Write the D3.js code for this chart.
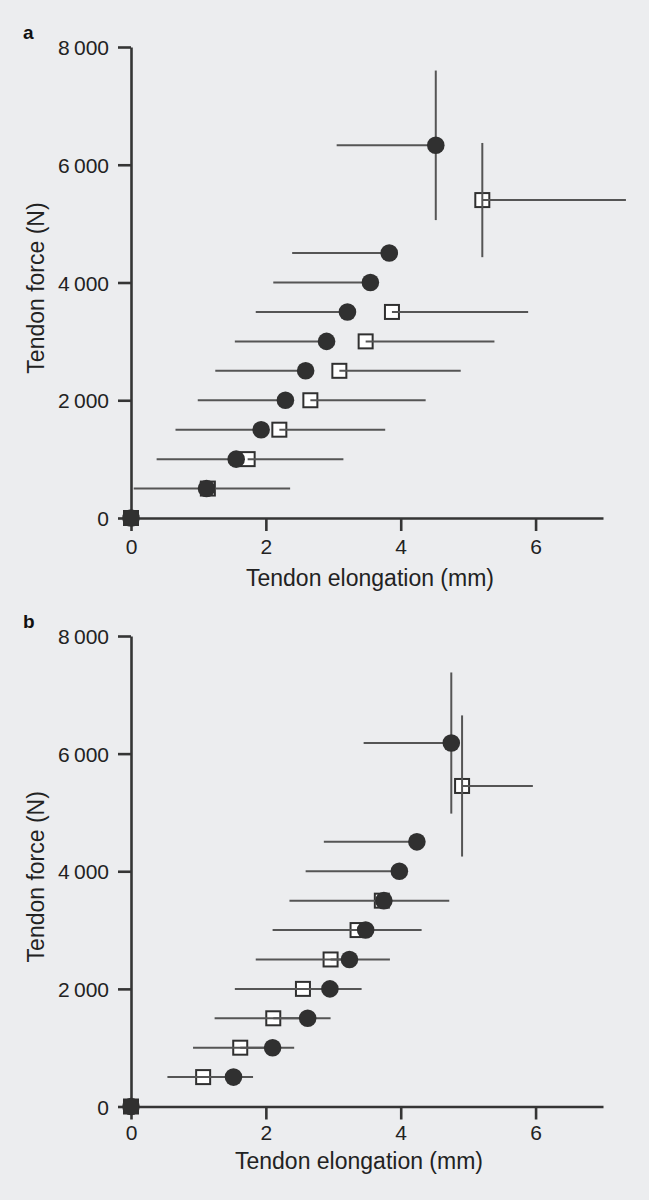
<!DOCTYPE html>
<html>
<head>
<meta charset="utf-8">
<script src="https://cdn.jsdelivr.net/npm/d3@7"></script>
<style>
  html, body { margin: 0; padding: 0; background: #ECEDEF; }
  svg { display: block; }
</style>
</head>
<body>
<svg id="chart" width="649" height="1200"></svg>
<script>
// ---------- DATA ----------
const xTicks = [0, 2, 4, 6];
const yTicks = [0, 2000, 4000, 6000, 8000];
const yTickLabels = ["0", "2\u2009000", "4\u2009000", "6\u2009000", "8\u2009000"];
const xTitle = "Tendon elongation (mm)";
const yTitle = "Tendon force (N)";

// Panel a – filled circles (error bar to the left)
const aCircleForce = [0, 500, 1000, 1500, 2000, 2500, 3000, 3500, 4000, 4500, 6330];
const aCircleElong = [0, 1.12, 1.56, 1.93, 2.29, 2.59, 2.90, 3.21, 3.55, 3.83, 4.52];
const aCircleElongErr = [0, 1.08, 1.18, 1.27, 1.30, 1.34, 1.36, 1.36, 1.44, 1.44, 1.47];
const aCircleForceErr = [0, 0, 0, 0, 0, 0, 0, 0, 0, 0, 1270];
// Panel a – open squares (error bar to the right)
const aSquareForce = [0, 500, 1000, 1500, 2000, 2500, 3000, 3500, 5400];
const aSquareElong = [0, 1.14, 1.73, 2.20, 2.66, 3.09, 3.48, 3.87, 5.21];
const aSquareElongErr = [0, 1.22, 1.42, 1.57, 1.71, 1.80, 1.91, 2.02, 2.13];
const aSquareForceErr = [0, 0, 0, 0, 0, 0, 0, 0, 970];

// Panel b – filled circles
const bCircleForce = [0, 500, 1000, 1500, 2000, 2500, 3000, 3500, 4000, 4500, 6180];
const bCircleElong = [0, 1.52, 2.10, 2.62, 2.95, 3.24, 3.48, 3.75, 3.98, 4.24, 4.75];
const bCircleElongErr = [0, 0.98, 1.18, 1.38, 1.41, 1.39, 1.38, 1.40, 1.39, 1.38, 1.30];
const bCircleForceErr = [0, 0, 0, 0, 0, 0, 0, 0, 0, 0, 1200];
// Panel b – open squares
const bSquareForce = [0, 500, 1000, 1500, 2000, 2500, 3000, 3500, 5450];
const bSquareElong = [0, 1.07, 1.62, 2.11, 2.55, 2.96, 3.36, 3.72, 4.91];
const bSquareElongErr = [0, 0.74, 0.80, 0.85, 0.87, 0.88, 0.95, 1.00, 1.05];
const bSquareForceErr = [0, 0, 0, 0, 0, 0, 0, 0, 1200];

// ---------- DRAW ----------
const svg = d3.select("#chart");
svg.append("rect").attr("width", 649).attr("height", 1200).attr("fill", "#ECEDEF");

const AXIS = "#353535", BAR = "#555555", MARK = "#303030";
const tickFont = "'Liberation Sans Narrow', 'Liberation Sans', Arial, sans-serif";
const titleFont = "'Liberation Sans', Arial, sans-serif";

function zip(f, e, ee, fe) {
  return f.map((v, i) => ({ f: v, e: e[i], ee: ee[i], fe: fe[i] }));
}

function panel(cfg) {
  const x = d3.scaleLinear().domain([0, 7]).range([131, 603]);
  const y = d3.scaleLinear().domain([0, 8000]).range([cfg.y0, cfg.y8]);
  const g = svg.append("g");

  // axes
  const xAxis = d3.axisBottom(x).tickValues(xTicks).tickSize(13).tickSizeOuter(0).tickPadding(8)
    .tickFormat(d3.format("d"));
  const gx = g.append("g").attr("transform", `translate(0,${y(0)})`).call(xAxis);
  const yAxis = d3.axisLeft(y).tickValues(yTicks).tickSize(13).tickSizeOuter(0).tickPadding(9)
    .tickFormat((d, i) => yTickLabels[i]);
  const gy = g.append("g").attr("transform", `translate(${x(0)},0)`).call(yAxis);
  [gx, gy].forEach(a => {
    a.select(".domain").attr("stroke", AXIS).attr("stroke-width", 2.6);
    a.selectAll(".tick line").attr("stroke", AXIS).attr("stroke-width", 2.6);
    a.selectAll(".tick text").attr("fill", "#222").style("font-family", tickFont).style("font-size", "21px");
  });
  gx.selectAll(".tick text").attr("dy", cfg.xTickDy);
  gy.selectAll(".tick text").attr("dy", "0.36em");

  const circles = zip(cfg.cF, cfg.cE, cfg.cEE, cfg.cFE);
  const squares = zip(cfg.sF, cfg.sE, cfg.sEE, cfg.sFE);

  // squares (open)
  const sz = 14;
  g.append("g").selectAll("rect").data(squares).join("rect")
    .attr("x", d => x(d.e) - sz / 2).attr("y", d => y(d.f) - sz / 2)
    .attr("width", sz).attr("height", sz)
    .attr("fill", "#ffffff").attr("stroke", MARK).attr("stroke-width", 2);

  // error bars
  const bars = g.append("g").attr("stroke", BAR).attr("stroke-width", 2);
  bars.selectAll("line.sh").data(squares.filter(d => d.ee > 0)).join("line")
    .attr("x1", d => x(d.e)).attr("x2", d => x(d.e + d.ee))
    .attr("y1", d => y(d.f)).attr("y2", d => y(d.f));
  bars.selectAll("line.sv").data(squares.filter(d => d.fe > 0)).join("line")
    .attr("x1", d => x(d.e)).attr("x2", d => x(d.e))
    .attr("y1", d => y(d.f - d.fe)).attr("y2", d => y(d.f + d.fe));
  const cbars = g.append("g").attr("stroke", BAR).attr("stroke-width", 2);
  cbars.selectAll("line").data(circles.filter(d => d.ee > 0)).join("line")
    .attr("x1", d => x(d.e - d.ee)).attr("x2", d => x(d.e))
    .attr("y1", d => y(d.f)).attr("y2", d => y(d.f));
  cbars.selectAll("line.cv").data(circles.filter(d => d.fe > 0)).join("line")
    .attr("class", "cv")
    .attr("x1", d => x(d.e)).attr("x2", d => x(d.e))
    .attr("y1", d => y(d.f - d.fe)).attr("y2", d => y(d.f + d.fe));

  // circles (filled)
  g.append("g").selectAll("circle").data(circles).join("circle")
    .attr("cx", d => x(d.e)).attr("cy", d => y(d.f)).attr("r", 8.8)
    .attr("fill", MARK);

  // titles
  g.append("text").attr("x", cfg.xTitleX).attr("y", cfg.xTitleY)
    .attr("text-anchor", "middle").attr("fill", "#222")
    .style("font-family", titleFont).style("font-size", "23px").text(xTitle);
  const yc = (y(0) + y(8000)) / 2 + 5.5;
  g.append("text").attr("transform", `translate(44,${yc}) rotate(-90)`)
    .attr("text-anchor", "middle").attr("fill", "#222")
    .style("font-family", titleFont).style("font-size", "23px").text(yTitle);

  // panel letter
  g.append("text").attr("x", 23).attr("y", cfg.letterY).attr("fill", "#111")
    .style("font-family", titleFont).style("font-size", "19px").style("font-weight", "bold")
    .text(cfg.letter);
}

panel({
  y0: 518, y8: 47, letter: "a", letterY: 39, xTitleX: 370, xTitleY: 586, xTickDy: "0.71em",
  cF: aCircleForce, cE: aCircleElong, cEE: aCircleElongErr, cFE: aCircleForceErr,
  sF: aSquareForce, sE: aSquareElong, sEE: aSquareElongErr, sFE: aSquareForceErr
});
panel({
  y0: 1106.5, y8: 636, letter: "b", letterY: 628, xTitleX: 359, xTitleY: 1169, xTickDy: "0.6em",
  cF: bCircleForce, cE: bCircleElong, cEE: bCircleElongErr, cFE: bCircleForceErr,
  sF: bSquareForce, sE: bSquareElong, sEE: bSquareElongErr, sFE: bSquareForceErr
});
</script>
</body>
</html>
